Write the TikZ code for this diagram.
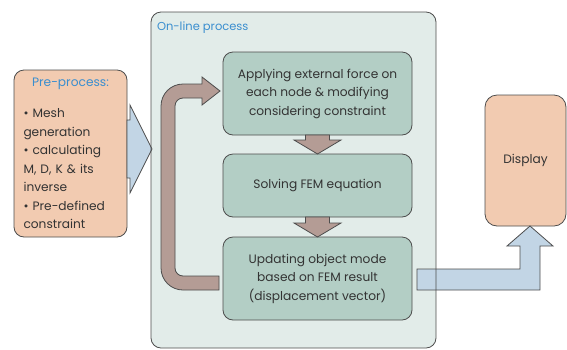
\documentclass[tikz,border=0pt]{standalone}
\usepackage{fontspec}
\setmainfont{Poppins}
\usetikzlibrary{calc}

\definecolor{framefill}{HTML}{E2ECE9}
\definecolor{stepfill}{HTML}{B3CEC5}
\definecolor{peach}{HTML}{F2CBB1}
\definecolor{loopbrown}{HTML}{B49C95}
\definecolor{flowblue}{HTML}{C2D5E5}
\definecolor{headblue}{HTML}{3A8ECF}
\definecolor{edge}{HTML}{4D4D4D}
\definecolor{ink}{HTML}{333333}

\newcommand\boxtextsize{\fontsize{12.2}{18.5}\selectfont}

\begin{document}
\begin{tikzpicture}[x=1pt, y=-1pt,
  every node/.style={inner sep=0pt, outer sep=0pt},
  box/.style={draw=edge, line width=0.8pt, rounded corners=10pt, text=ink, font=\boxtextsize},
  stepbox/.style={box, fill=stepfill, minimum width=189pt, align=center},
  blockarrow/.style={draw=edge, line width=0.8pt, line join=miter},
]
\useasboundingbox (0,0) rectangle (567,349);

% on-line process frame (fill only; outline drawn last)
\node[fill=framefill, rounded corners=10pt, minimum width=285pt, minimum height=336pt] (online) at (293.5,180) {};
\node[anchor=base west, text=headblue, font=\fontsize{11.5}{14}\selectfont] (onlinetitle) at (157,30) {On-line process};

% pre-process box
\node[box, fill=peach, minimum width=113pt, minimum height=167pt, text width=94pt, align=left] (pre) at (70.5,153.5)
  {\vspace*{4pt}{\centering\textcolor{headblue}{Pre-process:}\par}\vspace{8.5pt}%
   \textbullet{} Mesh\\ generation\\ \textbullet{} calculating\\ M, D, K \& its\\ inverse\\ \textbullet{} Pre-defined\\ constraint};

% processing steps
\node[stepbox, minimum height=83pt] (b1) at (317.5,93.5)
  {\vspace*{2pt}Applying external force on\\ each node \& modifying\\ considering constraint};
\node[stepbox, minimum height=63pt] (b2) at (317.5,185.5) {Solving FEM equation};
\node[stepbox, minimum height=83pt] (b3) at (317.5,278.5)
  {\vspace*{2pt}Updating object mode\\ based on FEM result\\ (displacement vector)};

% display box
\node[box, fill=peach, rounded corners=12pt, minimum width=81pt, minimum height=131pt] (disp) at (525.5,160.5) {Display};

% pre-process -> on-line process
\coordinate (a0) at ($(pre.east)+(0,-4.5)$);
\coordinate (a1) at (online.west |- a0);
\draw[blockarrow, fill=flowblue]
  ($(a0)+(0,-29)$) -- ($(a1)+(-21,-29)$) -- ($(a1)+(-21,-44)$) -- ($(a1)+(1,0)$)
  -- ($(a1)+(-21,44)$) -- ($(a1)+(-21,29)$) -- ($(a0)+(0,29)$) -- cycle;

% step -> step
\foreach \p/\q in {b1/b2, b2/b3}{
  \draw[blockarrow, fill=loopbrown]
    ($(\p.south)+(-12,0)$) -- ($(\p.south)+(12,0)$) -- ($(\q.north)+(12,-14)$)
    -- ($(\q.north)+(23.5,-14)$) -- (\q.north) -- ($(\q.north)+(-23.5,-14)$)
    -- ($(\q.north)+(-12,-14)$) -- cycle;
}

% feedback loop: update -> applying force
\coordinate (s) at ($(b3.west)+(-4,4.5)$);
\coordinate (t) at ($(b1.west)+(-3,-2.5)$);
\coordinate (lx) at ($(online.west)+(17,0)$);
\draw[blockarrow, fill=loopbrown]
  ($(s)+(0,-7)$) -- ($(lx |- s)+(15,-7)$)
  arc[start angle=90, end angle=180, radius=8]
  -- ($(lx |- t)+(7,15)$)
  arc[start angle=180, end angle=270, radius=8]
  -- ($(t)+(-18,7)$) -- ($(t)+(-18,14)$) -- (t) -- ($(t)+(-18,-14)$) -- ($(t)+(-18,-7)$)
  -- ($(lx |- t)+(15,-7)$)
  arc[start angle=270, end angle=180, radius=22]
  -- ($(lx |- s)+(-7,-15)$)
  arc[start angle=180, end angle=90, radius=22]
  -- ($(s)+(0,7)$) -- cycle;

% update -> display
\coordinate (u) at ($(b3.east)+(5,1)$);
\coordinate (v) at ($(disp.south)+(4.5,0)$);
\draw[blockarrow, fill=flowblue]
  ($(u)+(0,-10.5)$) -- ($(v |- u)+(-10,-10.5)$) -- ($(v)+(-10,20)$) -- ($(v)+(-23,20)$)
  -- (v) -- ($(v)+(23,20)$) -- ($(v)+(10,20)$) -- ($(v |- u)+(10,10.5)$)
  -- ($(u)+(0,10.5)$) -- cycle;

% frame outline on top
\draw[draw=edge, line width=0.8pt, rounded corners=10pt] (online.north west) rectangle (online.south east);
\end{tikzpicture}
\end{document}
